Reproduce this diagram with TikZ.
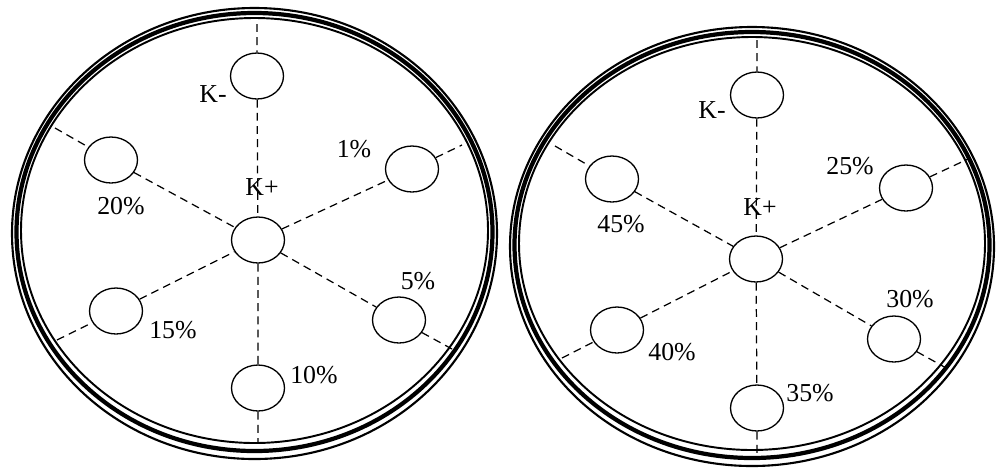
\documentclass[tikz,border=0pt]{standalone}
\usepackage{fontspec}
\setmainfont{Liberation Serif}
\usetikzlibrary{positioning,shapes.geometric}

\begin{document}
\begin{tikzpicture}[x=0.02cm, y=-0.02cm,
      well/.style={draw, ellipse, line width=0.75pt, minimum width=1.06cm,
                   minimum height=0.92cm, inner sep=0pt},
      conc/.style={font=\fontsize{14.7}{17}\selectfont, inner sep=0pt},
      guide/.style={line width=0.7pt, dash pattern=on 4.5pt off 3pt}]
  \useasboundingbox (0,0) rectangle (996,468);

  % dish rims
  \foreach \cx/\cy/\rx/\ry in {254.5/233.5/242.5/225.5, 752/246.5/242/219.5} {
    \draw[line width=1.2pt] (\cx,\cy) ellipse [x radius=\rx, y radius=\ry];
    \draw[line width=2.4pt] (\cx,\cy-1.5) ellipse [x radius=\rx-4.5, y radius=\ry-6.5];
    \draw[line width=1.1pt] (\cx,\cy-3) ellipse [x radius=\rx-9, y radius=\ry-13];
  }

  % left dish
  \node[well] (kmL) at (257,76) {};
  \node[well] (kpL) at (258,240) {};
  \node[well] (w20) at (111,160) {};
  \node[well] (w1)  at (412,169) {};
  \node[well] (w15) at (116,311) {};
  \node[well] (w5)  at (399,320) {};
  \node[well] (w10) at (258,388) {};
  \coordinate (eLt)  at (257,24);
  \coordinate (eLb)  at (258,443);
  \coordinate (eL20) at (55,128);
  \coordinate (eL1)  at (462,145);
  \coordinate (eL15) at (57,340);
  \coordinate (eL5)  at (452,349);
  \draw[guide] (eLt) -- (kmL) -- (kpL) -- (w10) -- (eLb);
  \draw[guide] (eL20) -- (w20) -- (kpL) -- (w5) -- (eL5);
  \draw[guide] (eL15) -- (w15) -- (kpL) -- (w1) -- (eL1);
  \node[conc] at (213,94)  {K-};
  \node[conc] at (262,187) {K+};
  \node[conc] at (121,206) {20\%};
  \node[conc] at (354,149) {1\%};
  \node[conc] at (173,330) {15\%};
  \node[conc] at (418,281) {5\%};
  \node[conc] at (314,375) {10\%};

  % right dish
  \node[well] (kmR) at (757,95) {};
  \node[well] (kpR) at (756,259) {};
  \node[well] (w45) at (612,179) {};
  \node[well] (w25) at (906,188) {};
  \node[well] (w40) at (617,330) {};
  \node[well] (w30) at (894,339) {};
  \node[well] (w35) at (757,408) {};
  \coordinate (eRt)  at (757,40);
  \coordinate (eRb)  at (757,456);
  \coordinate (eR45) at (555,146);
  \coordinate (eR25) at (968,159);
  \coordinate (eR40) at (562,358);
  \coordinate (eR30) at (948,369);
  \draw[guide] (eRt) -- (kmR) -- (kpR) -- (w35) -- (eRb);
  \draw[guide] (eR45) -- (w45) -- (kpR) -- (w30) -- (eR30);
  \draw[guide] (eR40) -- (w40) -- (kpR) -- (w25) -- (eR25);
  \node[conc] at (712,110) {K-};
  \node[conc] at (760,207) {K+};
  \node[conc] at (621,224) {45\%};
  \node[conc] at (850,166) {25\%};
  \node[conc] at (672,352) {40\%};
  \node[conc] at (910,299) {30\%};
  \node[conc] at (810,393) {35\%};
\end{tikzpicture}
\end{document}
